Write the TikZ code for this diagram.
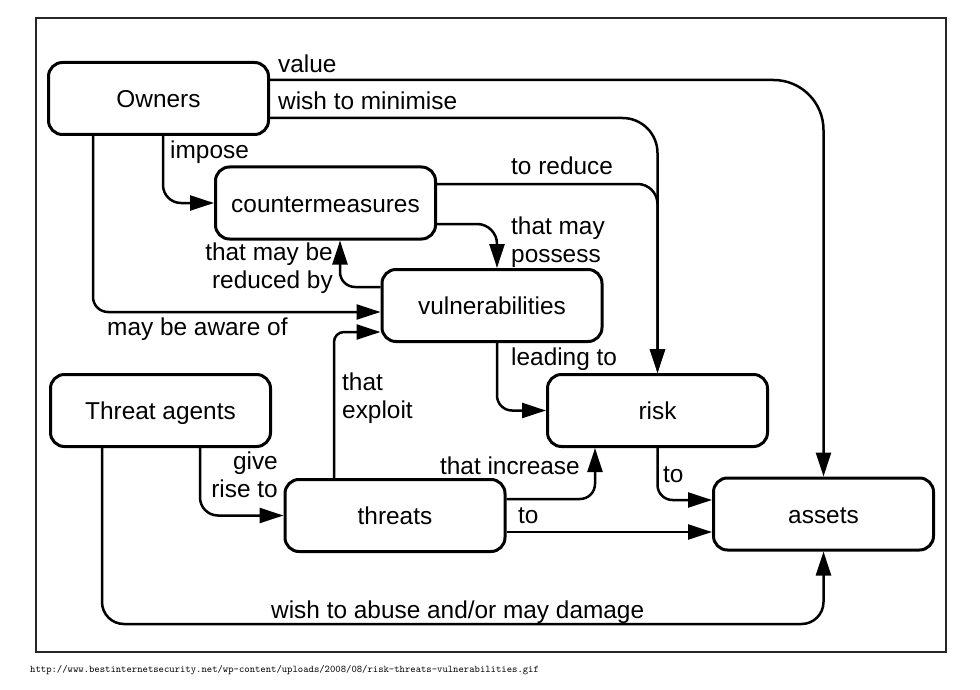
\documentclass[tikz,border=0pt]{standalone}
\usepackage{fontspec}
\setmainfont{Liberation Sans}
\usetikzlibrary{arrows.meta}
\begin{document}
\begin{tikzpicture}[x=1pt,y=-1pt,
  box/.style={draw, line width=3pt, rounded corners=14pt, minimum width=220pt, minimum height=72pt,
    inner sep=0pt, text height=18pt, text depth=0pt, font=\fontsize{24.4}{28}\selectfont},
  conn/.style={draw, line width=2.5pt, -{Triangle[length=24pt,width=15pt]}},
  lbl/.style={font=\fontsize{24.4}{28}\selectfont, inner sep=0pt},
]
\useasboundingbox (0,0) rectangle (980,690);
\draw[line width=2.6pt, black!85] (36,18) rectangle (946,652);

% nodes
\node[box] (owners)  at (158.5,98.5) {Owners};
\node[box] (cm)      at (325.5,203)  {countermeasures};
\node[box] (vul)     at (492,305.5)  {vulnerabilities};
\node[box] (ta)      at (160.5,410.5){Threat agents};
\node[box] (threats) at (395,515.5)  {threats};
\node[box] (risk)    at (657.5,410.5){risk};
\node[box] (assets)  at (823.5,514)  {assets};

% connectors
\draw[conn, rounded corners=50pt] (owners.east |- 0,80) -| (assets.north);
\draw[conn, rounded corners=35pt] (owners.east |- 0,118) -| (risk.north);
\draw[conn, rounded corners=20pt] (cm.east |- 0,184) -| (risk.north);
\draw[conn, rounded corners=20pt] (cm.east |- 0,224) -| (vul.north -| 497,0);
\draw[conn, rounded corners=18pt] (owners.south -| 163,0) |- (cm.west);
\draw[conn, rounded corners=15pt] (owners.south -| 93,0) |- (vul.west |- 0,312);
\draw[conn, rounded corners=15pt] (vul.west |- 0,287) -| (cm.south -| 340,0);
\draw[conn, rounded corners=10pt] (threats.north -| 334,0) |- (vul.west |- 0,332);
\draw[conn, rounded corners=15pt] (vul.south -| 497,0) |- (risk.west);
\draw[conn, rounded corners=18pt] (ta.south -| 200,0) |- (threats.west);
\draw[conn, rounded corners=15pt] (threats.east |- 0,499) -| (risk.south -| 595,0);
\draw[conn] (threats.east |- 0,532) -- (assets.west |- 0,532);
\draw[conn, rounded corners=15pt] (risk.south) |- (assets.west |- 0,500);
\draw[conn, rounded corners=22pt] (ta.south -| 102,0) |- (assets.south |- 0,624) -- (assets.south);

% labels
\node[lbl, anchor=base west] at (278,73) {value};
\node[lbl, anchor=base west] at (278,110) {wish to minimise};
\node[lbl, anchor=base west] at (170,158) {impose};
\node[lbl, anchor=base west] at (511,175) {to reduce};
\node[lbl, anchor=base west, align=left] at (511,262) {that may\\possess};
\node[lbl, anchor=base east, align=right] at (333,288) {that may be\\reduced by};
\node[lbl, anchor=base west] at (107,335) {may be aware of};
\node[lbl, anchor=base west] at (511,365) {leading to};
\node[lbl, anchor=base west, align=left] at (342,418) {that\\exploit};
\node[lbl, anchor=base east, align=right] at (278,497) {give\\rise to};
\node[lbl, anchor=base east] at (580,474) {that increase};
\node[lbl, anchor=base west] at (518,523) {to};
\node[lbl, anchor=base west] at (663,482) {to};
\node[lbl, anchor=base west] at (271,618) {wish to abuse and/or may damage};

\node[anchor=base west, inner sep=0pt, font=\ttfamily\fontsize{10.2}{12}\selectfont] (url) at (30,672)
  {http://www.bestinternetsecurity.net/wp-content/uploads/2008/08/risk-threats-vulnerabilities.gif};
\end{tikzpicture}
\end{document}
